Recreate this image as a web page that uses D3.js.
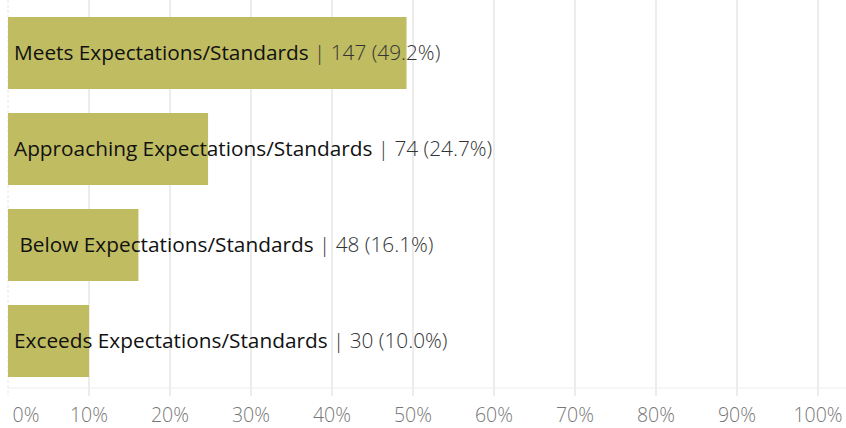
<!DOCTYPE html>
<html>
<head>
<meta charset="utf-8">
<script src="https://cdn.jsdelivr.net/npm/d3@7"></script>
<style>
  body { margin: 0; background: #fff; }
  text { white-space: pre; }
</style>
</head>
<body>
<div id="chart"></div>
<script>
var w = 846,
    h = 428;

var categories = ["Meets Expectations/Standards", "Approaching Expectations/Standards", " Below Expectations/Standards", "Exceeds Expectations/Standards"];
var counts = [147, 74, 48, 30];
var percents = [49.2, 24.7, 16.1, 10.0];
var ticks = [0, 10, 20, 30, 40, 50, 60, 70, 80, 90, 100];

var data = categories.map(function (c, i) {
    return { name: c, count: counts[i], pct: percents[i] };
});

var svg = d3.select("#chart").append("svg")
    .attr("width", w)
    .attr("height", h);

var x = d3.scaleLinear()
    .domain([0, 100])
    .range([8, 818]);

var y = d3.scaleBand()
    .domain(categories)
    .range([5, 389])
    .paddingInner(0.25)
    .paddingOuter(0.125);

// gridlines
svg.append("g").selectAll("line")
    .data(ticks.slice(1))
    .enter()
    .append("line")
    .attr("x1", function (d) { return x(d); })
    .attr("x2", function (d) { return x(d); })
    .attr("y1", 0)
    .attr("y2", 396)
    .style("stroke", "#ececec")
    .style("stroke-width", 2);

// zero line
svg.append("line")
    .attr("x1", x(0))
    .attr("x2", x(0))
    .attr("y1", 0)
    .attr("y2", 396)
    .style("stroke", "#e6e6e6")
    .style("stroke-dasharray", "3,2")
    .style("stroke-width", 1);

// axis line
svg.append("line")
    .attr("x1", x(0))
    .attr("x2", w)
    .attr("y1", 388)
    .attr("y2", 388)
    .style("stroke", "#ededed")
    .style("stroke-width", 1);

svg.append("g").selectAll("rect")
    .data(data)
    .enter()
    .append("rect")
    .attr("x", x(0))
    .attr("y", function (d) { return y(d.name); })
    .attr("width", function (d) { return x(d.pct) - x(0); })
    .attr("height", y.bandwidth())
    .style("fill", "#c0bc61");

var labels = svg.append("g").selectAll("text")
    .data(data)
    .enter()
    .append("text")
    .attr("x", 14)
    .attr("y", function (d) { return y(d.name) + y.bandwidth() / 2 + 7; })
    .style("font-family", "'Open Sans', sans-serif")
    .style("font-size", "20.8px");

labels.append("tspan")
    .style("fill", "#111")
    .text(function (d) { return d.name; });

labels.append("tspan")
    .style("fill", "#333")
    .style("font-weight", 300)
    .text(function (d) { return " | " + d.count + " (" + d.pct.toFixed(1) + "%)"; });

svg.append("g").selectAll("text")
    .data(ticks)
    .enter()
    .append("text")
    .attr("x", function (d) { return d === 0 ? 26 : x(d); })
    .attr("y", 422)
    .attr("text-anchor", "middle")
    .style("font-family", "'Open Sans', sans-serif")
    .style("font-size", "19.5px")
    .style("font-weight", 300)
    .style("fill", "#777")
    .text(function (d) { return d + "%"; });
</script>
</body>
</html>
